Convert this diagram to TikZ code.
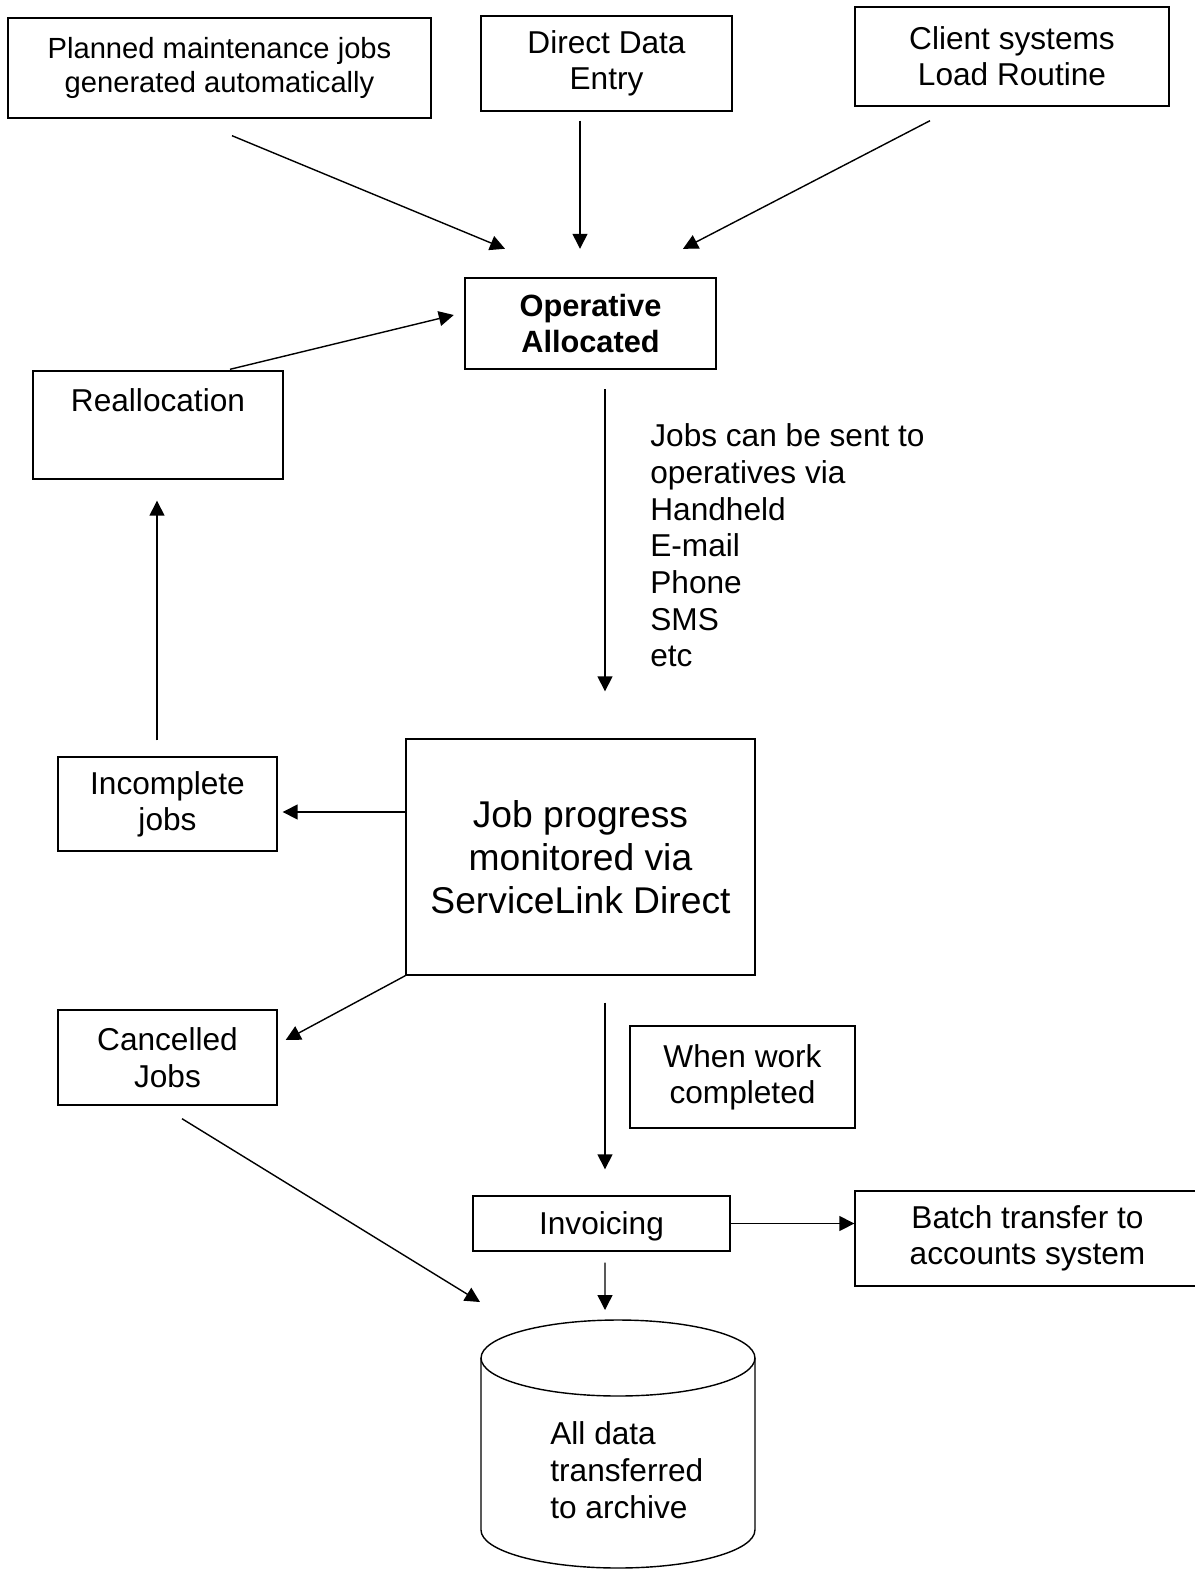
\documentclass[tikz,border=0pt]{standalone}
\usepackage{fontspec}
\setmainfont{Liberation Sans}
\usetikzlibrary{arrows.meta,calc}

\begin{document}
\begin{tikzpicture}[x=0.02cm, y=-0.02cm,
  box/.style={draw=black, line width=0.8pt, inner sep=0pt, align=center,
              font=\fontsize{18}{20.7}\selectfont},
  note/.style={inner sep=0pt, align=left, font=\fontsize{18}{20.9}\selectfont},
  arr/.style={-{Triangle[length=8.5pt,width=8.5pt]}, line width=0.8pt}
]
  \useasboundingbox (0,0) rectangle (1194,1569);

  \node[box, minimum width=8.46cm, minimum height=2cm,
        font=\fontsize{16.6}{19.2}\selectfont] (planned) at (219.5,68)
        {Planned maintenance jobs\\generated automatically};
  \node[box, minimum width=5.02cm, minimum height=1.9cm] (direct) at (606.5,63.5) {Direct Data\\Entry};
  \node[box, minimum width=6.28cm, minimum height=1.98cm] (client) at (1012,56.5) {Client systems\\Load Routine};
  \node[box, line width=1.4pt, minimum width=5.02cm, minimum height=1.82cm,
        font=\bfseries\fontsize{17.5}{20}\selectfont] (oper) at (590.5,323.5) {Operative\\Allocated};
  \node[box, minimum width=5cm, minimum height=2.16cm] (realloc) at (158,425) {Reallocation\\[8pt]\mbox{}};
  \node[note, anchor=west] (via) at (650,545.5)
        {Jobs can be sent to\\operatives via\\Handheld\\E-mail\\Phone\\SMS\\etc};
  \node[box, minimum width=6.98cm, minimum height=4.72cm,
        font=\fontsize{21.2}{24.4}\selectfont] (job) at (580.5,857)
        {Job progress\\monitored via\\ServiceLink Direct};
  \node[box, minimum width=4.38cm, minimum height=1.88cm] (incompl) at (167.5,804) {Incomplete\\jobs};
  \node[box, minimum width=4.38cm, minimum height=1.9cm] (cancel) at (167.5,1057.5) {Cancelled\\Jobs};
  \node[box, minimum width=4.5cm, minimum height=2.04cm] (whenwork) at (742.5,1077) {When work\\completed};
  \node[box, minimum width=5.14cm, minimum height=1.1cm, text depth=0pt] (invoic) at (601.5,1223.5) {Invoicing};
  \node[box, minimum width=6.9cm, minimum height=1.9cm] (batch) at (1027.5,1238.5)
        {Batch transfer to\\accounts system};

  % archive drum
  \coordinate (archtop) at (618,1320);
  \draw[line width=0.8pt] (481,1358) -- (481,1530)
    arc[start angle=180, end angle=360, x radius=2.74cm, y radius=0.76cm] -- (755,1358);
  \draw[line width=0.8pt] (618,1358) ellipse [x radius=2.74cm, y radius=0.76cm];
  \node[note, anchor=west] (archive) at (550,1470) {All data\\transferred\\to archive};

  \draw[arr] ($(planned.south)+(12.5,17)$) -- ($(oper.north)+(-85.5,-28)$);
  \draw[arr] ($(direct.south)+(-26.5,9)$) -- ($(oper.north)+(-10.5,-28)$);
  \draw[arr] ($(client.south)+(-82,14)$) -- ($(oper.north)+(92.5,-28)$);
  \draw[arr] ($(realloc.north)+(72,-1)$) -- ($(oper.west)+(-10,-8.5)$);
  \draw[arr] ($(oper.south)+(14.5,19)$) -- ($(job.north)+(24.5,-47)$);
  \draw[arr] ($(job.west)+(0,-45)$) -- ($(incompl.east)+(5,8)$);
  \draw[arr] ($(incompl.north)+(-10.5,-16)$) -- ($(realloc.south)+(-1,21)$);
  \draw[arr] (job.south west) -- ($(cancel.east)+(8,-17.5)$);
  \draw[arr] ($(job.south)+(24.5,27)$) -- ($(invoic.north)+(3.5,-26)$);
  \draw[arr] (invoic.east) -- (invoic.east -| batch.west);
  \draw[arr] ($(invoic.south)+(3.5,11)$) -- ($(archtop)+(-13,-10)$);
  \draw[arr] ($(cancel.south)+(14.5,13)$) -- ($(archtop)+(-138,-18)$);
\end{tikzpicture}
\end{document}
